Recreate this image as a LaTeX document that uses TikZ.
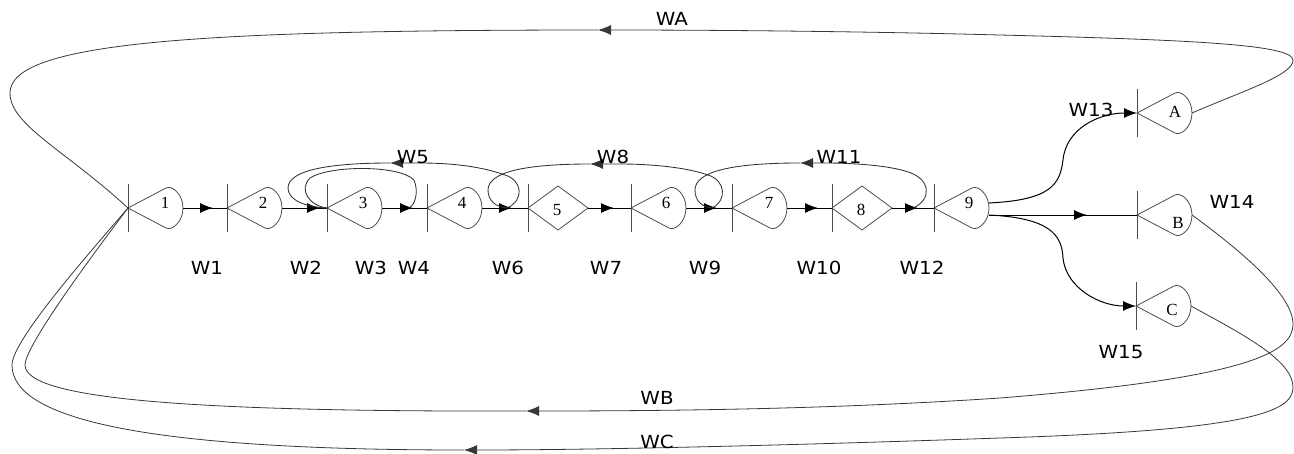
\documentclass[tikz,border=0pt]{standalone}
\usepackage{fontspec}
\setmainfont{Liberation Serif}
\newfontfamily\wfont[FakeStretch=1.1]{DejaVu Sans}
\usetikzlibrary{arrows.meta,decorations.markings}
\tikzset{
  shp/.style={draw=black!70, line width=0.8pt},
  tipend/.style={-{Latex[length=13pt,width=10pt]}},
  conn/.style={draw=black, line width=1pt},
  midarrow/.style={postaction={decorate}, decoration={markings, mark=at position -#1 with {\arrow{Latex[length=13pt,width=10pt]}}}},
  rec/.style={draw=black!80, line width=0.85pt},
  big/.style={draw=black!78, line width=0.8pt},
  num/.style={font=\fontsize{17}{17}\selectfont, inner sep=0pt},
  wl/.style={font=\wfont\fontsize{18}{18}\selectfont, inner sep=0pt},
  tear/.pic={
    \draw[shp] (0,-24) -- (0,24);
    \draw[shp] (0,0) -- (38,-20) .. controls (44,-23) and (55,-14) .. (55,0)
               .. controls (55,14) and (44,23) .. (38,20) -- cycle;
    \coordinate (-in) at (0,0);
    \coordinate (-out) at (55,0);
  },
  diam/.pic={
    \draw[shp] (0,-24) -- (0,24);
    \draw[shp] (0,0) -- (30,-22) -- (60,0) -- (30,22) -- cycle;
    \coordinate (-in) at (0,0);
    \coordinate (-out) at (60,0);
  }
}
\begin{document}
\begin{tikzpicture}[x=1pt,y=-1pt]
\useasboundingbox (0,0) rectangle (1294,453);
% units
\pic (u1) at (128,208) {tear};
\pic (u2) at (227,208) {tear};
\pic (u3) at (327,208) {tear};
\pic (u4) at (427,208) {tear};
\pic (u5) at (528,208) {diam};
\pic (u6) at (631,208) {tear};
\pic (u7) at (732,208) {tear};
\pic (u8) at (832,208) {diam};
\pic (u9) at (934,208) {tear};
\pic (uA) at (1137,113) {tear};
\pic (uB) at (1137,215) {tear};
\pic (uC) at (1136,306) {tear};
% unit labels
\node[num] (n1) at (165,203) {1};
\node[num] (n2) at (263,203) {2};
\node[num] (n3) at (363,203) {3};
\node[num] (n4) at (462,203) {4};
\node[num] (n5) at (557,210) {5};
\node[num] (n6) at (666,203) {6};
\node[num] (n7) at (769,203) {7};
\node[num] (n8) at (861,210) {8};
\node[num] (n9) at (969,203) {9};
\node[num] (nA) at (1175,112) {A};
\node[num] (nB) at (1178,223) {B};
\node[num] (nC) at (1172,310) {C};
% straight flows
\draw[conn, midarrow=14pt] (u1-out) -- (u2-in);
\draw[conn, midarrow=7pt] (u2-out) -- (u3-in);
\draw[conn, midarrow=14pt] (u3-out) -- (u4-in);
\draw[conn, midarrow=16pt] (u4-out) -- (u5-in);
\draw[conn, midarrow=17pt] (u5-out) -- (u6-in);
\draw[conn, midarrow=15pt] (u6-out) -- (u7-in);
\draw[conn, midarrow=14pt] (u7-out) -- (u8-in);
\draw[conn, midarrow=16pt] (u8-out) -- (u9-in);
% junctions and arrow points
\coordinate (j34) at (409,208);
\coordinate (j45) at (507,208);
\coordinate (j67) at (712,208);
\coordinate (j89) at (913,208);
\coordinate (w5a) at (390,163);
\coordinate (w8a) at (590,164);
\coordinate (w11a) at (800,163);
\coordinate (wa) at (598,30);
\coordinate (wb) at (526,411);
\coordinate (wc) at (464,450);
% inner loop around 3
\draw[rec] (u3-in) .. controls (310,206) and (298,190) .. (310,178)
  .. controls (330,165) and (400,165) .. (414,180)
  .. controls (419,192) and (415,205) .. (j34);
% W5
\draw[rec, tipend] (j45) .. controls (525,200) and (522,180) .. (505,175)
  .. controls (480,166) and (450,163) .. (420,163) -- (w5a);
\draw[rec] (w5a) .. controls (330,163) and (288,170) .. (288,188)
  .. controls (288,200) and (305,207) .. (u3-in);
% W8
\draw[rec, tipend] (j67) .. controls (728,200) and (725,180) .. (708,175)
  .. controls (685,167) and (650,164) .. (620,164) -- (w8a);
\draw[rec] (w8a) .. controls (525,164) and (488,172) .. (488,190)
  .. controls (488,201) and (496,207) .. (j45);
% W11
\draw[rec, tipend] (j89) .. controls (932,200) and (932,178) .. (905,171)
  .. controls (885,165) and (850,163) .. (825,163) -- (w11a);
\draw[rec] (w11a) .. controls (730,163) and (695,172) .. (695,190)
  .. controls (695,201) and (702,207) .. (j67);
% 9 to A, B, C
\draw[conn, tipend] ([yshift=5pt]u9-out) .. controls (1050,200) and (1060,185) .. (1063,160)
  .. controls (1066,128) and (1100,113) .. (uA-in);
\draw[conn, midarrow=50pt] ([yshift=-7pt]u9-out) -- (uB-in);
\draw[conn, tipend] ([yshift=-7pt]u9-out) .. controls (1050,218) and (1062,235) .. (1063,258)
  .. controls (1066,288) and (1100,306) .. (uC-in);
% WA
\draw[big, tipend] (uA-out) .. controls (1240,92) and (1294,75) .. (1293,60)
  .. controls (1292,45) and (1200,40) .. (1000,35)
  .. controls (850,31) and (700,30) .. (wa);
\draw[big] (wa) .. controls (200,30) and (10,42) .. (10,93)
  .. controls (10,125) and (65,150) .. (u1-in);
% WB
\draw[big, tipend] (uB-out) .. controls (1240,250) and (1294,295) .. (1293,325)
  .. controls (1292,352) and (1250,378) .. (1000,398)
  .. controls (850,408) and (700,411) .. (wb);
\draw[big] (wb) .. controls (200,412) and (25,400) .. (25,365)
  .. controls (25,345) and (100,245) .. (u1-in);
% WC
\draw[big, tipend] (uC-out) .. controls (1240,333) and (1294,360) .. (1293,388)
  .. controls (1292,412) and (1250,430) .. (1000,438)
  .. controls (800,445) and (600,450) .. (wc);
\draw[big] (wc) .. controls (150,450) and (12,420) .. (12,365)
  .. controls (12,340) and (92,250) .. (u1-in);
% stream labels
\node[wl] (W1) at (207,268) {W1};
\node[wl] (W2) at (306,268) {W2};
\node[wl] (W3) at (371,268) {W3};
\node[wl] (W4) at (414,268) {W4};
\node[wl] (W6) at (508,268) {W6};
\node[wl] (W7) at (606,268) {W7};
\node[wl] (W9) at (705,268) {W9};
\node[wl] (W10) at (819,268) {W10};
\node[wl] (W12) at (922,268) {W12};
\node[wl] (W5) at (413,157) {W5};
\node[wl] (W8) at (613,157) {W8};
\node[wl] (W11) at (839,157) {W11};
\node[wl] (W13) at (1091,110) {W13};
\node[wl] (W14) at (1232,202) {W14};
\node[wl] (W15) at (1121,352) {W15};
\node[wl] (WA) at (672,19) {WA};
\node[wl] (WB) at (657,398) {WB};
\node[wl] (WC) at (657,442) {WC};
\end{tikzpicture}
\end{document}
